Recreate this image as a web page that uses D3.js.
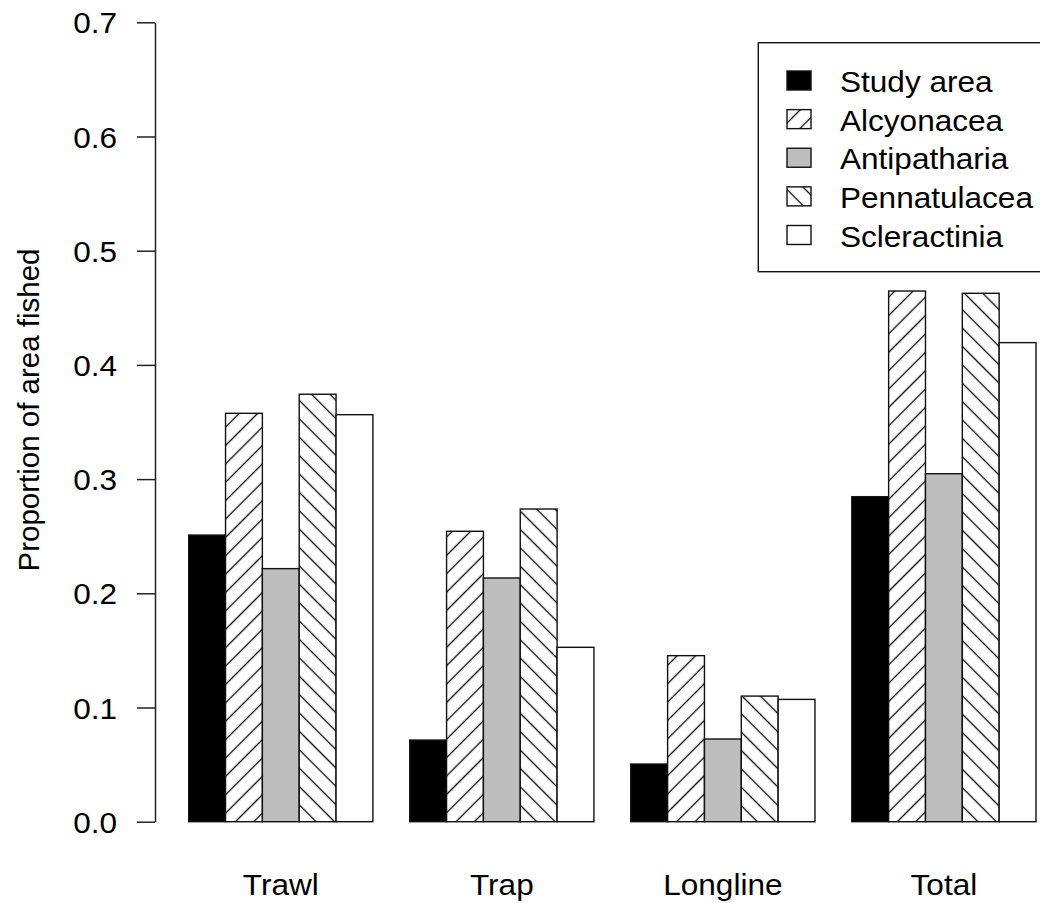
<!DOCTYPE html>
<html>
<head>
<meta charset="utf-8">
<script src="https://cdn.jsdelivr.net/npm/d3@7"></script>
<style>
  html, body { margin: 0; padding: 0; background: #fff; }
  svg { display: block; }
  text { font-family: "Liberation Sans", Arial, Helvetica, sans-serif; fill: #000; }
</style>
</head>
<body>
<svg id="chart" width="1040" height="903"></svg>
<script>
// ---- data ----
const categories = ["Trawl", "Trap", "Longline", "Total"];
const seriesNames = ["Study area", "Alcyonacea", "Antipatharia", "Pennatulacea", "Scleractinia"];
const studyArea    = [0.251, 0.0715, 0.0505, 0.2846];
const alcyonacea   = [0.3576, 0.2543, 0.1454, 0.4647];
const antipatharia = [0.2216, 0.2134, 0.0724, 0.3047];
const pennatulacea = [0.3743, 0.2738, 0.110, 0.4627];
const scleractinia = [0.3564, 0.1527, 0.1071, 0.4195];
const yTicks = [0, 0.1, 0.2, 0.3, 0.4, 0.5, 0.6, 0.7];
const yTitle = "Proportion of area fished";

const seriesValues = [studyArea, alcyonacea, antipatharia, pennatulacea, scleractinia];
const seriesFills = ["#000000", "url(#hatchFwd)", "#bebebe", "url(#hatchBack)", "#ffffff"];

const rows = [];
categories.forEach((c, gi) => {
  seriesNames.forEach((s, si) => {
    rows.push({ cat: c, series: s, value: seriesValues[si][gi] });
  });
});

// ---- layout ----
const FS = 29.5;   // font size
const SX = 1.07;   // horizontal text stretch
const svg = d3.select("#chart");

const defs = svg.append("defs");
function hatch(id, angle) {
  const p = defs.append("pattern")
    .attr("id", id)
    .attr("patternUnits", "userSpaceOnUse")
    .attr("width", 13).attr("height", 13)
    .attr("patternTransform", `rotate(${angle})`);
  p.append("rect").attr("width", 13).attr("height", 13).attr("fill", "#fff");
  p.append("line").attr("x1", 6.5).attr("x2", 6.5).attr("y1", -1).attr("y2", 14)
    .attr("stroke", "#000").attr("stroke-width", 1.3);
}
hatch("hatchFwd", 45);
hatch("hatchBack", -45);

const y = d3.scaleLinear().domain([0, 0.7]).range([821.7, 22.3]);
const xGroup = d3.scaleBand().domain(categories).range([188.7, 1036]).paddingInner(1 / 6).paddingOuter(0);
const xSeries = d3.scaleBand().domain(seriesNames).range([0, xGroup.bandwidth()]).padding(0);
const fillOf = d3.scaleOrdinal().domain(seriesNames).range(seriesFills);

// bars
svg.append("g").selectAll("rect")
  .data(rows)
  .join("rect")
  .attr("x", d => xGroup(d.cat) + xSeries(d.series))
  .attr("y", d => y(d.value))
  .attr("width", xSeries.bandwidth())
  .attr("height", d => y(0) - y(d.value))
  .attr("fill", d => fillOf(d.series))
  .attr("stroke", "#111")
  .attr("stroke-width", 1.4);

// y axis
const axisX = 155;
const yAxis = svg.append("g")
  .attr("transform", `translate(${axisX},0)`)
  .call(d3.axisLeft(y).tickValues(yTicks).tickFormat(d3.format(".1f")).tickSize(18).tickSizeOuter(0).tickPadding(17.5));
yAxis.select(".domain").attr("stroke", "#222").attr("stroke-width", 1.5);
yAxis.selectAll(".tick line").attr("stroke", "#222").attr("stroke-width", 1.5);
yAxis.selectAll(".tick text")
  .attr("font-size", FS)
  .attr("font-family", "Liberation Sans, Arial, sans-serif")
  .attr("fill", "#000")
  .attr("transform", `scale(${SX},1)`)
  .attr("dy", "0.36em");

// x category labels
svg.append("g").selectAll("text")
  .data(categories)
  .join("text")
  .attr("transform", d => `translate(${xGroup(d) + xGroup.bandwidth() / 2},894.5) scale(${SX},1)`)
  .attr("text-anchor", "middle")
  .attr("font-size", FS)
  .text(d => d);

// y title
svg.append("text")
  .attr("transform", "translate(39,410) rotate(-90)")
  .attr("text-anchor", "middle")
  .attr("font-size", FS)
  .text(yTitle);

// legend
const lg = svg.append("g");
lg.append("rect")
  .attr("x", 758.3).attr("y", 42.7)
  .attr("width", 300).attr("height", 229)
  .attr("fill", "#fff").attr("stroke", "#111").attr("stroke-width", 1.4);
const rowY = d3.scalePoint().domain(seriesNames).range([80.5, 235]);
const items = lg.selectAll("g.item").data(seriesNames).join("g").attr("class", "item");
items.append("rect")
  .attr("x", 787).attr("y", d => rowY(d) - 9.5)
  .attr("width", 24).attr("height", 19)
  .attr("fill", d => fillOf(d))
  .attr("stroke", "#111").attr("stroke-width", 1.4);
items.append("text")
  .attr("transform", d => `translate(840,${rowY(d) + 11.5}) scale(${SX},1)`)
  .attr("font-size", FS)
  .text(d => d);
</script>
</body>
</html>
